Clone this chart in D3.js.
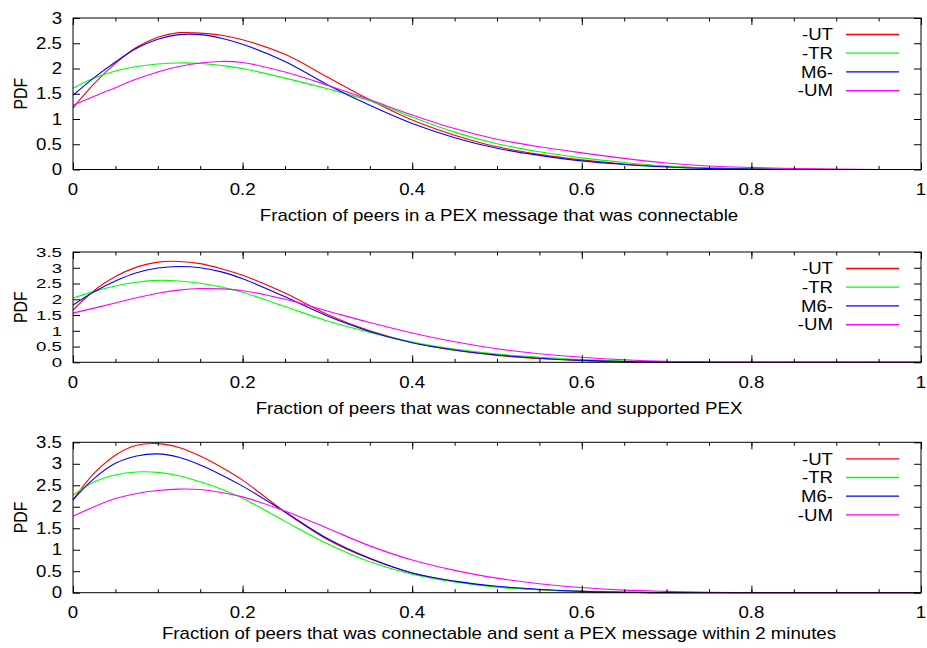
<!DOCTYPE html>
<html>
<head>
  <meta charset="utf-8">
  <script src="https://cdn.jsdelivr.net/npm/d3@7"></script>
  <style>
    body { margin: 0; background: #fff; }
    svg text { font-family: "Liberation Sans", Arial, sans-serif; font-size: 15.8px; fill: #000; }
  </style>
</head>
<body>
<div id="chart"></div>
<script>
// shared x sample points
var xs = [0, 0.025, 0.05, 0.075, 0.1, 0.125, 0.15, 0.175, 0.2, 0.25, 0.3, 0.35, 0.4,
          0.45, 0.5, 0.55, 0.6, 0.65, 0.7, 0.75, 0.8, 0.85, 0.9, 0.95, 1];

var seriesNames = ["-UT", "-TR", "M6-", "-UM"];
var seriesColors = ["#ff0000", "#00ff00", "#0000ff", "#ff00ff"];

var xTicks = [0, 0.2, 0.4, 0.6, 0.8, 1];

// panel 1: fraction of peers in a PEX message that was connectable
var p1UT = [1.22, 1.70, 2.10, 2.42, 2.62, 2.71, 2.70, 2.66, 2.57, 2.28, 1.83, 1.38, 0.98, 0.68, 0.45, 0.30, 0.19, 0.11, 0.06, 0.03, 0.01, 0.004, 0, 0, 0];
var p1TR = [1.61, 1.81, 1.95, 2.04, 2.09, 2.11, 2.10, 2.06, 2.00, 1.81, 1.60, 1.36, 1.04, 0.74, 0.51, 0.35, 0.23, 0.14, 0.07, 0.03, 0.01, 0.004, 0, 0, 0];
var p1M6 = [1.47, 1.82, 2.13, 2.40, 2.58, 2.67, 2.67, 2.60, 2.48, 2.14, 1.68, 1.27, 0.91, 0.63, 0.42, 0.28, 0.17, 0.10, 0.05, 0.02, 0.01, 0.003, 0, 0, 0];
var p1UM = [1.27, 1.45, 1.62, 1.79, 1.93, 2.04, 2.11, 2.14, 2.12, 1.93, 1.67, 1.38, 1.08, 0.81, 0.60, 0.45, 0.33, 0.22, 0.13, 0.07, 0.04, 0.02, 0.01, 0, 0];

// panel 2: connectable and supported PEX
var p2UT = [1.66, 2.28, 2.72, 3.02, 3.18, 3.20, 3.13, 2.97, 2.76, 2.20, 1.52, 1.00, 0.63, 0.38, 0.22, 0.12, 0.06, 0.02, 0.01, 0, 0, 0, 0, 0, 0];
var p2TR = [2.04, 2.25, 2.42, 2.54, 2.60, 2.58, 2.51, 2.39, 2.22, 1.77, 1.31, 0.95, 0.64, 0.42, 0.26, 0.16, 0.09, 0.04, 0.01, 0, 0, 0, 0, 0, 0];
var p2M6 = [1.82, 2.24, 2.58, 2.84, 2.99, 3.04, 3.00, 2.87, 2.65, 2.08, 1.47, 0.98, 0.62, 0.39, 0.23, 0.13, 0.06, 0.02, 0.01, 0, 0, 0, 0, 0, 0];
var p2UM = [1.56, 1.72, 1.88, 2.05, 2.19, 2.29, 2.34, 2.33, 2.27, 2.00, 1.63, 1.26, 0.93, 0.65, 0.43, 0.27, 0.16, 0.08, 0.03, 0.01, 0, 0, 0, 0, 0];

// panel 3: connectable and sent a PEX message within 2 minutes
var p3UT = [2.16, 2.78, 3.20, 3.43, 3.47, 3.38, 3.18, 2.92, 2.62, 1.88, 1.24, 0.79, 0.46, 0.26, 0.14, 0.07, 0.03, 0.01, 0, 0, 0, 0, 0, 0, 0];
var p3TR = [2.27, 2.58, 2.74, 2.81, 2.80, 2.72, 2.58, 2.41, 2.20, 1.66, 1.14, 0.72, 0.43, 0.25, 0.13, 0.07, 0.03, 0.01, 0, 0, 0, 0, 0, 0, 0];
var p3M6 = [2.16, 2.66, 3.01, 3.18, 3.23, 3.15, 2.97, 2.74, 2.48, 1.88, 1.26, 0.80, 0.46, 0.27, 0.15, 0.08, 0.03, 0.01, 0, 0, 0, 0, 0, 0, 0];
var p3UM = [1.78, 2.00, 2.19, 2.31, 2.38, 2.41, 2.40, 2.33, 2.23, 1.90, 1.50, 1.09, 0.76, 0.52, 0.34, 0.21, 0.12, 0.06, 0.03, 0.01, 0, 0, 0, 0, 0];

var xLabels = [
  "Fraction of peers in a PEX message that was connectable",
  "Fraction of peers that was connectable and supported PEX",
  "Fraction of peers that was connectable and sent a PEX message within 2 minutes"
];
var yMax = [3, 3.5, 3.5];

// layout of each panel (pixels)
var panels = [
  { top: 18,    bottom: 169.5, labelY: 221, series: [p1UT, p1TR, p1M6, p1UM] },
  { top: 252,   bottom: 362.3, labelY: 414, series: [p2UT, p2TR, p2M6, p2UM] },
  { top: 442.3, bottom: 592.7, labelY: 639, series: [p3UT, p3TR, p3M6, p3UM] }
];

var W = 927, H = 648, left = 73, right = 921;
var FS = 15.8, SX = 1.18; // the reference text is stretched horizontally

var svg = d3.select("#chart").append("svg")
  .attr("width", W).attr("height", H);

var x = d3.scaleLinear().domain([0, 1]).range([left, right]);

// text placed with a horizontal stretch; fs lets tight tick rows use a smaller box
function label(g, tx, ty, str, anchor, rot, fs){
  var sx = fs ? SX * FS / fs : SX;
  var t = g.append("text")
    .attr("transform", "translate(" + tx + "," + ty + ") scale(" + sx + ",1)" + (rot ? " rotate(" + rot + ")" : ""))
    .attr("text-anchor", anchor || "start")
    .text(str);
  if (fs) t.style("font-size", fs + "px");
  return t;
}

var fmt = d3.format("~g");

panels.forEach(function(p, i){
  var y = d3.scaleLinear().domain([0, yMax[i]]).range([p.bottom, p.top]);
  var g = svg.append("g");

  // curves
  var line = d3.line()
    .x(function(d){ return x(d[0]); })
    .y(function(d){ return y(d[1]); })
    .curve(d3.curveCatmullRom.alpha(0.5));

  p.series.forEach(function(vals, k){
    g.append("path")
      .datum(xs.map(function(xv, j){ return [xv, vals[j]]; }))
      .attr("fill", "none")
      .attr("stroke", seriesColors[k])
      .attr("stroke-width", 1.1)
      .attr("d", line);
  });

  // ticks: bottom/top major + minor, left/right mirrored
  var minor = d3.range(0, 1.0001, 0.05);
  var yTicks = d3.range(0, yMax[i] + 0.001, 0.5);

  function styleAxis(sel){
    sel.select(".domain").remove();
    sel.selectAll("line").attr("stroke", "#000").attr("stroke-width", 1);
    sel.selectAll("text").remove();
  }

  g.append("g").attr("transform", "translate(0," + p.bottom + ")")
    .call(d3.axisBottom(x).tickValues(minor).tickSize(-3.5)).call(styleAxis);
  g.append("g").attr("transform", "translate(0," + p.bottom + ")")
    .call(d3.axisBottom(x).tickValues(xTicks).tickSize(-7)).call(styleAxis);
  g.append("g").attr("transform", "translate(0," + p.top + ")")
    .call(d3.axisTop(x).tickValues(minor).tickSize(-3.5)).call(styleAxis);
  g.append("g").attr("transform", "translate(0," + p.top + ")")
    .call(d3.axisTop(x).tickValues(xTicks).tickSize(-7)).call(styleAxis);
  g.append("g").attr("transform", "translate(" + left + ",0)")
    .call(d3.axisLeft(y).tickValues(yTicks).tickSize(-7)).call(styleAxis);
  g.append("g").attr("transform", "translate(" + right + ",0)")
    .call(d3.axisRight(y).tickValues(yTicks).tickSize(-7)).call(styleAxis);

  // tick labels (rows closer than a line height get a smaller font box)
  xTicks.forEach(function(t){
    label(g, x(t), p.bottom + 25.5, fmt(t), "middle");
  });
  var step = y(0) - y(0.5);
  var yfs = step < FS * 1.16 ? Math.floor(step / 1.16 * 10) / 10 : null;
  yTicks.forEach(function(t){
    label(g, left - 11, y(t) + (yfs ? yfs : FS) * 0.36, fmt(t), "end", null, yfs);
  });

  // frame
  g.append("rect")
    .attr("x", left).attr("y", p.top)
    .attr("width", right - left).attr("height", p.bottom - p.top)
    .attr("fill", "none").attr("stroke", "#000").attr("stroke-width", 1);

  // axis labels
  label(g, (left + right) / 2 + 2, p.labelY, xLabels[i], "middle");
  label(g, 26.5, (p.top + p.bottom) / 2, "PDF", "middle", -90);

  // legend
  seriesNames.forEach(function(name, k){
    var ly = p.top + 16.5 + k * 18.7;
    label(g, 833, ly + 5.7, name, "end");
    g.append("line")
      .attr("x1", 846).attr("x2", 899).attr("y1", ly).attr("y2", ly)
      .attr("stroke", seriesColors[k]).attr("stroke-width", 1.3);
  });
});
</script>
</body>
</html>
